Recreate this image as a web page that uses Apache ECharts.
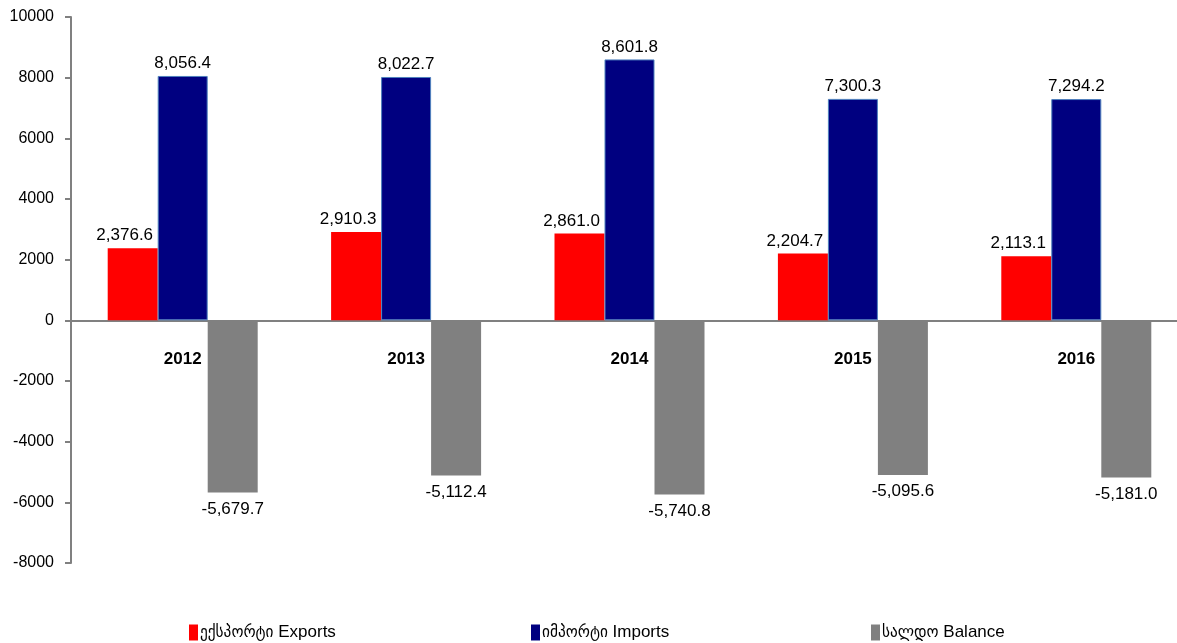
<!DOCTYPE html>
<html>
<head>
<meta charset="utf-8">
<script src="https://cdn.jsdelivr.net/npm/echarts@6/dist/echarts.min.js"></script>
<style>
html,body{margin:0;padding:0;background:#fff;}
#chart{width:1177px;height:643px;}
</style>
</head>
<body>
<div id="chart"></div>
<script>
var categories = ['2012', '2013', '2014', '2015', '2016'];
var exportsData = [2376.6, 2910.3, 2861.0, 2204.7, 2113.1];
var importsData = [8056.4, 8022.7, 8601.8, 7300.3, 7294.2];
var balanceData = [-5679.7, -5112.4, -5740.8, -5095.6, -5181.0];
var seriesNames = ['ექსპორტი Exports', 'იმპორტი Imports', 'სალდო Balance'];

var FONT = "'Liberation Sans', Arial, 'DejaVu Sans Condensed', 'DejaVu Sans', sans-serif";
function fmt(p) {
  return Number(p.value).toLocaleString('en-US', {minimumFractionDigits: 1, maximumFractionDigits: 1});
}
var labelStyle = {fontFamily: FONT, fontSize: 17, color: '#000'};

var chart = echarts.init(document.getElementById('chart'));
function legendAt(name, left) {
  return {
    data: [name], left: left, top: 619, itemWidth: 9, itemHeight: 16, itemGap: 0,
    icon: 'rect',
    itemStyle: {borderWidth: 0},
    textStyle: {fontFamily: FONT, fontSize: 17, color: '#000', padding: [0, 0, 0, -3]}
  };
}
chart.setOption({
  animation: false,
  backgroundColor: '#fff',
  grid: {left: 71, right: -11, top: 17, bottom: 80, containLabel: false, outerBoundsMode: 'none'},
  legend: [legendAt(seriesNames[0], 184), legendAt(seriesNames[1], 526), legendAt(seriesNames[2], 866)],
  xAxis: {
    type: 'category',
    data: categories,
    axisLine: {onZero: true, lineStyle: {color: '#808080', width: 2}},
    axisTick: {show: false},
    axisLabel: {fontFamily: FONT, fontSize: 17, fontWeight: 'bold', color: '#000', margin: -212}
  },
  yAxis: {
    type: 'value',
    min: -8000, max: 10000, interval: 2000,
    splitLine: {show: false},
    axisLine: {show: true, lineStyle: {color: '#808080', width: 2}},
    axisTick: {show: true, length: 6, lineStyle: {color: '#808080', width: 2}},
    axisLabel: {fontFamily: FONT, fontSize: 16, color: '#000', margin: 17,
      formatter: function (v) { return String(v); }}
  },
  series: [
    {
      name: seriesNames[0], type: 'bar', data: exportsData, barWidth: 50, barGap: '0%',
      itemStyle: {color: '#FF0000'},
      label: Object.assign({show: true, position: 'top', distance: 4, offset: [-8, 0], formatter: fmt}, labelStyle)
    },
    {
      name: seriesNames[1], type: 'bar', data: importsData, barWidth: 50, barGap: '0%',
      itemStyle: {color: '#000080', borderColor: '#4F81BD', borderWidth: 1},
      label: Object.assign({show: true, position: 'top', distance: 4, formatter: fmt}, labelStyle)
    },
    {
      name: seriesNames[2], type: 'bar', data: balanceData, barWidth: 50, barGap: '0%',
      itemStyle: {color: '#808080'},
      label: Object.assign({show: true, position: 'bottom', distance: 8, formatter: fmt}, labelStyle)
    }
  ]
});
</script>
</body>
</html>
